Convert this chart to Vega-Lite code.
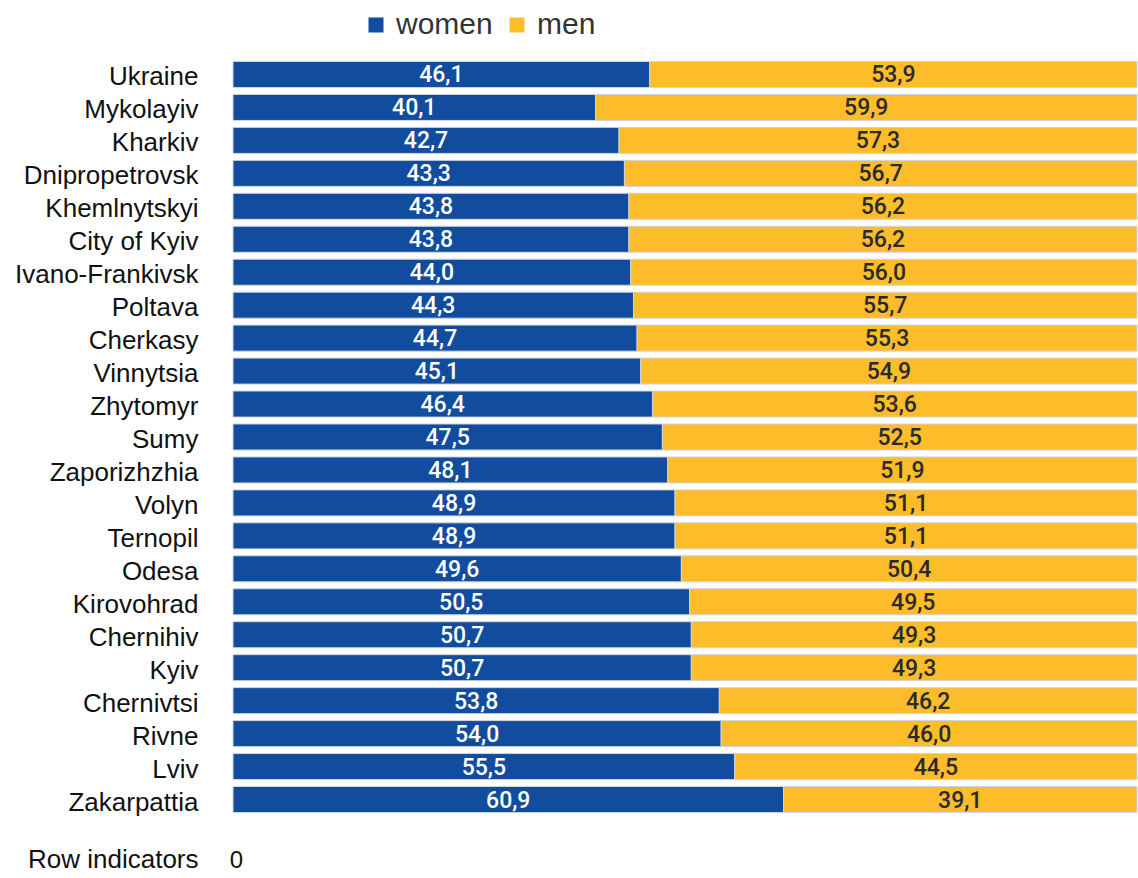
{
  "$schema": "https://vega.github.io/schema/vega-lite/v6.json",
  "autosize": {"type": "none"},
  "width": 904,
  "height": 758,
  "padding": {"left": 233, "top": 58, "right": 1, "bottom": 62},
  "background": "#ffffff",
  "config": {
    "view": {"stroke": null},
    "locale": {"number": {"decimal": ",", "thousands": " ", "grouping": [3], "currency": ["", ""]}}
  },
  "data": {"values": [
    {"region": "Ukraine", "sex": "women", "value": 46.1}, {"region": "Ukraine", "sex": "men", "value": 53.9},
    {"region": "Mykolayiv", "sex": "women", "value": 40.1}, {"region": "Mykolayiv", "sex": "men", "value": 59.9},
    {"region": "Kharkiv", "sex": "women", "value": 42.7}, {"region": "Kharkiv", "sex": "men", "value": 57.3},
    {"region": "Dnipropetrovsk", "sex": "women", "value": 43.3}, {"region": "Dnipropetrovsk", "sex": "men", "value": 56.7},
    {"region": "Khemlnytskyi", "sex": "women", "value": 43.8}, {"region": "Khemlnytskyi", "sex": "men", "value": 56.2},
    {"region": "City of Kyiv", "sex": "women", "value": 43.8}, {"region": "City of Kyiv", "sex": "men", "value": 56.2},
    {"region": "Ivano-Frankivsk", "sex": "women", "value": 44.0}, {"region": "Ivano-Frankivsk", "sex": "men", "value": 56.0},
    {"region": "Poltava", "sex": "women", "value": 44.3}, {"region": "Poltava", "sex": "men", "value": 55.7},
    {"region": "Cherkasy", "sex": "women", "value": 44.7}, {"region": "Cherkasy", "sex": "men", "value": 55.3},
    {"region": "Vinnytsia", "sex": "women", "value": 45.1}, {"region": "Vinnytsia", "sex": "men", "value": 54.9},
    {"region": "Zhytomyr", "sex": "women", "value": 46.4}, {"region": "Zhytomyr", "sex": "men", "value": 53.6},
    {"region": "Sumy", "sex": "women", "value": 47.5}, {"region": "Sumy", "sex": "men", "value": 52.5},
    {"region": "Zaporizhzhia", "sex": "women", "value": 48.1}, {"region": "Zaporizhzhia", "sex": "men", "value": 51.9},
    {"region": "Volyn", "sex": "women", "value": 48.9}, {"region": "Volyn", "sex": "men", "value": 51.1},
    {"region": "Ternopil", "sex": "women", "value": 48.9}, {"region": "Ternopil", "sex": "men", "value": 51.1},
    {"region": "Odesa", "sex": "women", "value": 49.6}, {"region": "Odesa", "sex": "men", "value": 50.4},
    {"region": "Kirovohrad", "sex": "women", "value": 50.5}, {"region": "Kirovohrad", "sex": "men", "value": 49.5},
    {"region": "Chernihiv", "sex": "women", "value": 50.7}, {"region": "Chernihiv", "sex": "men", "value": 49.3},
    {"region": "Kyiv", "sex": "women", "value": 50.7}, {"region": "Kyiv", "sex": "men", "value": 49.3},
    {"region": "Chernivtsi", "sex": "women", "value": 53.8}, {"region": "Chernivtsi", "sex": "men", "value": 46.2},
    {"region": "Rivne", "sex": "women", "value": 54.0}, {"region": "Rivne", "sex": "men", "value": 46.0},
    {"region": "Lviv", "sex": "women", "value": 55.5}, {"region": "Lviv", "sex": "men", "value": 44.5},
    {"region": "Zakarpattia", "sex": "women", "value": 60.9}, {"region": "Zakarpattia", "sex": "men", "value": 39.1}
  ]},
  "transform": [
    {"calculate": "datum.sex === 'women' ? 0 : 1", "as": "ord"},
    {"stack": "value", "groupby": ["region"], "sort": [{"field": "ord", "order": "ascending"}], "as": ["x0", "x1"]},
    {"calculate": "(datum.x0 + datum.x1) / 2", "as": "xmid"}
  ],
  "encoding": {
    "y": {
      "field": "region", "type": "nominal", "sort": null,
      "scale": {"paddingInner": 0.21, "paddingOuter": 0.105},
      "axis": {
        "title": "Row indicators", "titleAngle": 0, "titleAlign": "right", "titleBaseline": "alphabetic",
        "titleX": -35, "titleY": 809, "titleFont": "Liberation Sans", "titleFontSize": 26, "titleFontWeight": "normal", "titleColor": "#111111",
        "domain": false, "ticks": false, "tickSize": 0, "labelPadding": 35, "labelOffset": 3, "labelLimit": 400,
        "labelFont": "Liberation Sans", "labelFontSize": 26, "labelColor": "#111111"
      }
    }
  },
  "layer": [
    {
      "mark": {"type": "bar", "stroke": "#cfd5df", "strokeWidth": 1},
      "encoding": {
        "x": {
          "field": "x0", "type": "quantitative", "scale": {"domain": [0, 100], "nice": false},
          "axis": {
            "values": [0], "title": null, "domain": false, "ticks": false, "tickSize": 0, "grid": false,
            "labelFlush": false, "labelOffset": 3,
            "labelBaseline": "alphabetic", "labelPadding": 51, "labelFont": "Liberation Sans", "labelFontSize": 24, "labelColor": "#111111"
          }
        },
        "x2": {"field": "x1"},
        "color": {
          "field": "sex", "type": "nominal",
          "scale": {"domain": ["women", "men"], "range": ["#114c9e", "#fdbc2a"]},
          "legend": {
            "title": null, "orient": "none", "direction": "horizontal", "legendX": 128, "legendY": -48,
            "symbolType": "square", "symbolSize": 225, "symbolStrokeWidth": 0, "symbolOpacity": 1,
            "labelFont": "Liberation Sans", "labelFontSize": 30, "labelColor": "#333333", "labelOffset": 5, "columnPadding": 9
          }
        }
      }
    },
    {
      "mark": {"type": "text", "font": "Roboto", "fontWeight": 500, "fontSize": 23, "baseline": "middle", "align": "center", "dy": 1},
      "encoding": {
        "x": {"field": "xmid", "type": "quantitative"},
        "text": {"field": "value", "type": "quantitative", "format": ".1f"},
        "color": {
          "condition": {"test": "datum.sex === 'women'", "value": "#ffffff"},
          "value": "#2a2a2a"
        }
      }
    }
  ]
}
